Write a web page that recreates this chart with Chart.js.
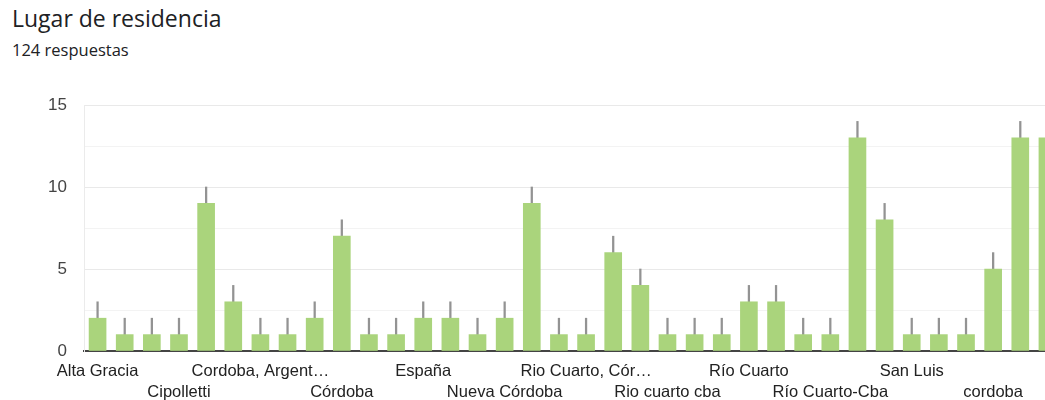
<!DOCTYPE html>
<html lang="es">
<head>
<meta charset="utf-8">
<title>Lugar de residencia</title>
<script src="https://cdn.jsdelivr.net/npm/chart.js@4.4.1/dist/chart.umd.min.js"></script>
<style>
  html, body { margin: 0; padding: 0; background: #fff; overflow: hidden; }
  body { width: 1045px; height: 400px; position: relative; }
  #title { position: absolute; left: 12px; top: 2px; font: 400 23px "Open Sans", Roboto, sans-serif; color: #202124; white-space: nowrap; }
  #subtitle { position: absolute; left: 12px; top: 38px; font: 400 16.5px "Open Sans", Roboto, sans-serif; color: #202124; white-space: nowrap; }
  #wrap { position: absolute; left: 0; top: 0; width: 1075px; height: 400px; }
</style>
</head>
<body>
<div id="title">Lugar de residencia</div>
<div id="subtitle">124 respuestas</div>
<div id="wrap"><canvas id="chart"></canvas></div>
<script>
// Answers to "Lugar de residencia", sorted as the form lists them.
// Only every third place name is printed under the axis; unnamed places stay blank.
const places = [
  'Alta Gracia', '', '', 'Cipolletti', '', '', 'Cordoba, Argentina', '', '', 'Córdoba',
  '', '', 'España', '', '', 'Nueva Córdoba', '', '', 'Rio Cuarto, Córdoba', '',
  '', 'Rio cuarto cba', '', '', 'Río Cuarto', '', '', 'Río Cuarto-Cba', '', '',
  'San Luis', '', '', 'cordoba', '', ''
];
const counts = [
  2, 1, 1, 1, 9, 3, 1, 1, 2, 7,
  1, 1, 2, 2, 1, 2, 9, 1, 1, 6,
  4, 1, 1, 1, 3, 3, 1, 1, 13, 8,
  1, 1, 1, 5, 13, 13
];
const yTicks = [0, 5, 10, 15];

const fontFamily = '"Liberation Sans", Arial, sans-serif';

function shorten(text) {
  return text.length > 15 ? text.slice(0, 15) + '…' : text;
}

new Chart(document.getElementById('chart'), {
  type: 'bar',
  data: {
    labels: places,
    datasets: [
      {
        label: 'Respuestas',
        data: counts,
        backgroundColor: '#aad47c',
        borderWidth: 0,
        barThickness: 17,
        grouped: false,
        order: 1
      },
      {
        label: 'Intervalo',
        data: counts.map(v => [v, v + 1]),
        backgroundColor: '#939393',
        borderWidth: 0,
        barThickness: 1.6,
        grouped: false,
        order: 2
      }
    ]
  },
  options: {
    responsive: true,
    maintainAspectRatio: false,
    animation: false,
    layout: { padding: { top: 105, right: 14, left: 0, bottom: 0 } },
    plugins: {
      legend: { display: false },
      tooltip: { enabled: false }
    },
    scales: {
      x: {
        offset: true,
        grid: { display: false, drawTicks: false },
        border: { display: true, color: '#444', width: 2 },
        ticks: {
          autoSkip: false,
          maxRotation: 0,
          minRotation: 0,
          padding: 10,
          color: '#222',
          font: { family: fontFamily, size: 16.5, lineHeight: 1.27 },
          callback: function (value, index) {
            const name = places[index];
            if (!name) return '';
            const row = (index / 3) % 2;
            return row === 0 ? shorten(name) : ['', shorten(name)];
          }
        },
        afterFit: function (scale) { scale.height = 49; }
      },
      y: {
        min: 0,
        max: 15,
        afterBuildTicks: function (scale) {
          const t = [];
          for (let v = 0; v <= 15; v += 2.5) t.push({ value: v });
          scale.ticks = t;
        },
        grid: {
          drawTicks: false,
          color: ctx => (ctx.tick && ctx.tick.value % 5 === 0) ? '#e9e9e9' : '#f3f3f3',
          lineWidth: 1
        },
        border: { display: true, color: '#ebebeb', width: 1 },
        ticks: {
          padding: 17,
          color: '#444',
          font: { family: fontFamily, size: 17 },
          callback: v => yTicks.includes(v) ? String(v) : ''
        },
        afterFit: function (scale) { scale.width = 84; }
      }
    }
  }
});
</script>
</body>
</html>
